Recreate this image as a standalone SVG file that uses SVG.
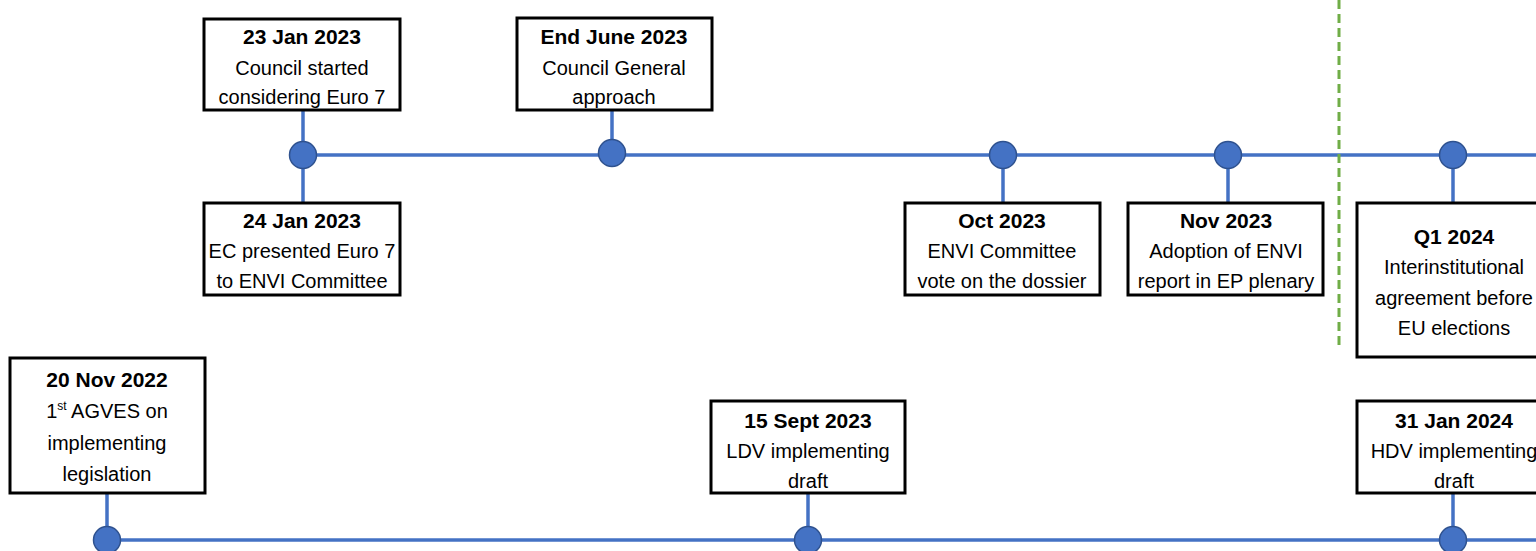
<svg xmlns="http://www.w3.org/2000/svg" width="1536" height="551" viewBox="0 0 1536 551">
<style>
.box{fill:#fff;stroke:#000;stroke-width:3}
.t{font-family:"Liberation Sans",Arial,sans-serif;font-size:20px;fill:#000;text-anchor:middle}
.b{font-weight:bold;font-size:21px}
.ln{stroke:#4472C4;stroke-width:3.5;fill:none}
.dot{fill:#4472C4;stroke:#2F528F;stroke-width:1.5}
</style>
<rect width="1536" height="551" fill="#fff"/>
<g id="connectors">
<line class="ln" x1="303" y1="155" x2="1536" y2="155"/>
<line class="ln" x1="107" y1="540" x2="1536" y2="540"/>
<line class="ln" x1="303" y1="110" x2="303" y2="203"/>
<line class="ln" x1="612" y1="110" x2="612" y2="153"/>
<line class="ln" x1="1003" y1="155" x2="1003" y2="203"/>
<line class="ln" x1="1228" y1="155" x2="1228" y2="203"/>
<line class="ln" x1="1453" y1="155" x2="1453" y2="203"/>
<line class="ln" x1="107" y1="493" x2="107" y2="540"/>
<line class="ln" x1="808" y1="493" x2="808" y2="540"/>
<line class="ln" x1="1453" y1="493" x2="1453" y2="540"/>
<line x1="1339" y1="0" x2="1339" y2="345" stroke="#70AD47" stroke-width="3" stroke-dasharray="9,5"/>
</g>
<g id="dots">
<circle class="dot" cx="303" cy="155" r="13.5"/>
<circle class="dot" cx="612" cy="153" r="13.5"/>
<circle class="dot" cx="1003" cy="155" r="13.5"/>
<circle class="dot" cx="1228" cy="155" r="13.5"/>
<circle class="dot" cx="1453" cy="155" r="13.5"/>
<circle class="dot" cx="107" cy="540" r="13.5"/>
<circle class="dot" cx="808" cy="540" r="13.5"/>
<circle class="dot" cx="1453" cy="540" r="13.5"/>
</g>
<g id="n1">
<rect class="box" x="204" y="19" width="196" height="91"/>
<text class="t b" x="302" y="44">23 Jan 2023</text>
<text class="t" x="302" y="75">Council started</text>
<text class="t" x="302" y="104">considering Euro 7</text>
</g>
<g id="n2">
<rect class="box" x="204" y="203" width="196" height="92"/>
<text class="t b" x="302" y="228">24 Jan 2023</text>
<text class="t" x="302" y="258">EC presented Euro 7</text>
<text class="t" x="302" y="288">to ENVI Committee</text>
</g>
<g id="n3">
<rect class="box" x="517" y="18" width="195" height="92"/>
<text class="t b" x="614" y="44">End June 2023</text>
<text class="t" x="614" y="75">Council General</text>
<text class="t" x="614" y="104">approach</text>
</g>
<g id="n4">
<rect class="box" x="905" y="203" width="195" height="92"/>
<text class="t b" x="1002" y="228">Oct 2023</text>
<text class="t" x="1002" y="258">ENVI Committee</text>
<text class="t" x="1002" y="288">vote on the dossier</text>
</g>
<g id="n5">
<rect class="box" x="1128" y="203" width="195" height="92"/>
<text class="t b" x="1226" y="228">Nov 2023</text>
<text class="t" x="1226" y="258">Adoption of ENVI</text>
<text class="t" x="1226" y="288">report in EP plenary</text>
</g>
<g id="n6">
<rect class="box" x="1357" y="203" width="195" height="154"/>
<text class="t b" x="1454" y="244">Q1 2024</text>
<text class="t" x="1454" y="274">Interinstitutional</text>
<text class="t" x="1454" y="305">agreement before</text>
<text class="t" x="1454" y="335">EU elections</text>
</g>
<g id="n7">
<rect class="box" x="10" y="358" width="195" height="135"/>
<text class="t b" x="107" y="387">20 Nov 2022</text>
<text class="t" x="107" y="418">1<tspan font-size="12" dy="-8">st</tspan><tspan dy="8"> AGVES on</tspan></text>
<text class="t" x="107" y="450">implementing</text>
<text class="t" x="107" y="481">legislation</text>
</g>
<g id="n8">
<rect class="box" x="711" y="401" width="194" height="92"/>
<text class="t b" x="808" y="428">15 Sept 2023</text>
<text class="t" x="808" y="458">LDV implementing</text>
<text class="t" x="808" y="488">draft</text>
</g>
<g id="n9">
<rect class="box" x="1357" y="401" width="195" height="92"/>
<text class="t b" x="1454" y="428">31 Jan 2024</text>
<text class="t" x="1454" y="458">HDV implementing</text>
<text class="t" x="1454" y="488">draft</text>
</g>
</svg>
